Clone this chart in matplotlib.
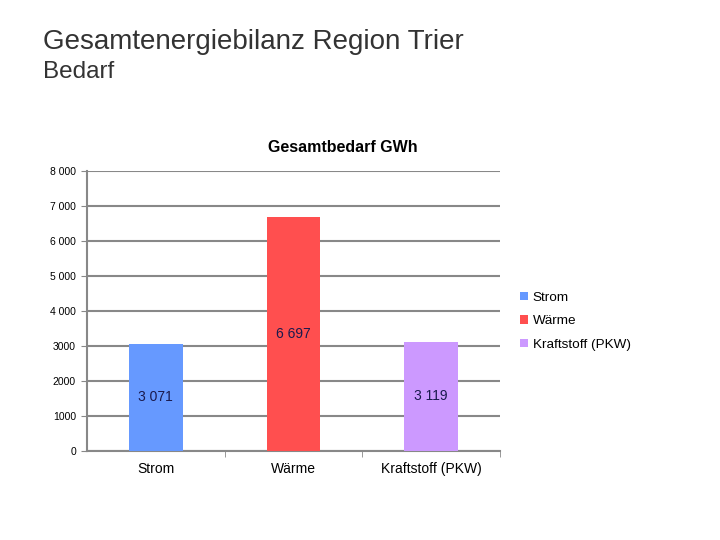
import matplotlib.pyplot as plt
import numpy as np

plt.rcParams["font.family"] = ["Liberation Sans", "DejaVu Sans"]

categories = ["Strom", "Wärme", "Kraftstoff (PKW)"]
values = [3071, 6697, 3119]
value_labels = ["3 071", "6 697", "3 119"]
colors = ["#6699FF", "#FF4F4F", "#CC99FF"]
yticks = [0, 1000, 2000, 3000, 4000, 5000, 6000, 7000, 8000]
ytick_labels = ["0", "1000", "2000", "3000", "4 000", "5 000", "6 000", "7 000", "8 000"]

fig = plt.figure(figsize=(7.2, 5.4), dpi=100)

# Slide titles
fig.text(43 / 720, 1 - 42 / 540, "Gesamtenergiebilanz Region Trier", fontsize=20,
         color="#333333", ha="left", va="center")
fig.text(43 / 720, 1 - 72 / 540, "Bedarf", fontsize=17.5, color="#333333",
         ha="left", va="center")

ax = fig.add_axes([87 / 720, 1 - 451 / 540, 413 / 720, 280 / 540])
x = np.arange(len(categories))
bars = ax.bar(x, values, width=0.39, color=colors, zorder=3)

for xi, v, lab in zip(x, values, value_labels):
    ax.text(xi, v / 2, lab, ha="center", va="center", fontsize=10, color="#1a1a4d", zorder=4)

ax.set_xlim(-0.5, 2.5)
ax.set_ylim(0, 8000)
ax.set_yticks(yticks)
ax.set_yticklabels(ytick_labels, fontsize=7.5)
ax.set_xticks(x)
ax.set_xticklabels(categories, fontsize=10)
ax.set_xticks([0.5, 1.5, 2.5], minor=True)
ax.tick_params(axis="x", which="major", length=0, pad=8)
ax.tick_params(axis="x", which="minor", length=4, color="#888888")
ax.tick_params(axis="y", length=4, color="#888888", pad=4)
ax.grid(axis="y", color="#888888", linewidth=1.5, zorder=0)
for s in ["top", "right"]:
    ax.spines[s].set_visible(False)
ax.spines["left"].set_color("#888888")
ax.spines["left"].set_linewidth(1.5)
ax.spines["bottom"].set_color("#888888")
ax.spines["bottom"].set_linewidth(1.5)

ax.set_title("Gesamtbedarf GWh", fontsize=11.5, fontweight="bold", pad=14, x=0.62)

ax.legend(bars, categories, loc="center left", bbox_to_anchor=(1.02, 0.464),
          frameon=False, fontsize=9.7, handlelength=0.6, handleheight=0.6,
          handletextpad=0.3, labelspacing=0.85)

plt.savefig("out.png", dpi=100)
